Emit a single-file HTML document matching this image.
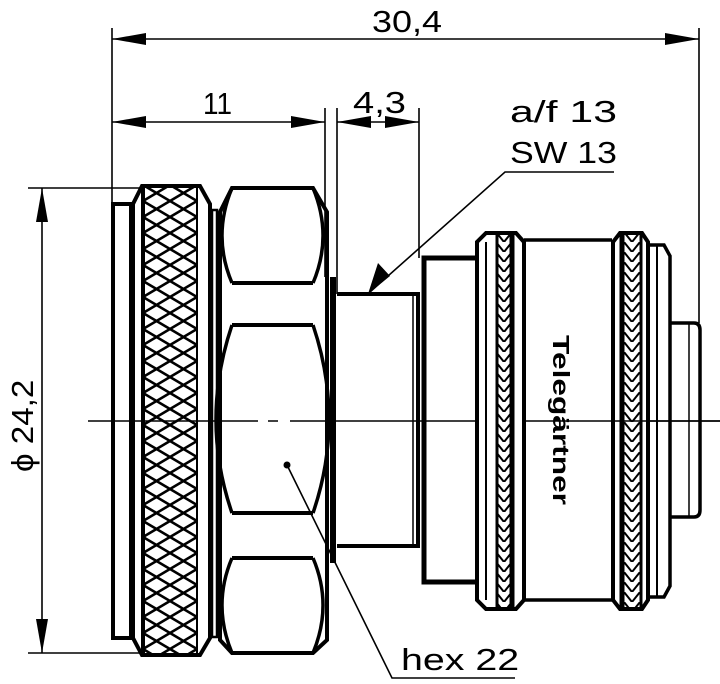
<!DOCTYPE html>
<html><head><meta charset="utf-8"><style>
html,body{margin:0;padding:0;background:#fff;}
svg{display:block;}
text{font-family:"Liberation Sans",sans-serif;fill:#000;}
</style></head><body>
<svg width="720" height="684" viewBox="0 0 720 684" xmlns="http://www.w3.org/2000/svg">
<defs>
<pattern id="kn" x="143" y="185" width="27" height="16" patternUnits="userSpaceOnUse">
<path d="M0 0 L27 16 M27 0 L0 16 M-13.5 8 L0 0 M27 16 L40 8" stroke="#000" stroke-width="2.6" fill="none"/>
</pattern>
<pattern id="kn2" x="0" y="232" width="16" height="10" patternUnits="userSpaceOnUse">
<path d="M0 0 L8 10 L16 0" stroke="#000" stroke-width="2" fill="none"/>
</pattern>
</defs>
<g fill="none" stroke="#000">
<line x1="88" y1="421" x2="720" y2="421" stroke-width="1.5"/>
<rect x="113" y="204" width="18" height="434" stroke-width="4"/>
<path d="M142 186 L200 186 L210 204 L210 638 L200 655 L142 655 L133 638 L133 204 Z" stroke-width="4" fill="#fff"/>
<rect x="143" y="188" width="54" height="465" fill="url(#kn)" stroke="none"/>
<line x1="143" y1="188" x2="143" y2="653" stroke-width="4"/>
<line x1="197" y1="188" x2="197" y2="653" stroke-width="2"/>
<line x1="133" y1="421" x2="210" y2="421" stroke-width="1.5"/>
<rect x="212" y="210" width="5" height="427" stroke-width="2.5"/>
<path d="M232 188 L313 188 L327 212 L327 640 L313 653 L232 653 L220 640 L220 212 Z" stroke-width="4" fill="#fff"/>
<path d="M232 188 Q212 236 232 283 M313 188 Q333 236 313 283" stroke-width="3.5"/>
<path d="M232 325 Q200 420 232 513 M313 325 Q345 420 313 513" stroke-width="3.5"/>
<path d="M232 558 Q212 605 232 653 M313 558 Q333 605 313 653" stroke-width="3.5"/>
<line x1="232" y1="283" x2="313" y2="283" stroke-width="4"/>
<line x1="232" y1="325" x2="313" y2="325" stroke-width="4"/>
<line x1="232" y1="513" x2="313" y2="513" stroke-width="4"/>
<line x1="232" y1="558" x2="313" y2="558" stroke-width="4"/>
<line x1="220" y1="421" x2="258" y2="421" stroke-width="1.5"/>
<line x1="268" y1="421" x2="278" y2="421" stroke-width="1.5"/>
<line x1="290" y1="421" x2="330" y2="421" stroke-width="1.5"/>
<rect x="330" y="277" width="6" height="286" fill="#000" stroke="none"/>
<path d="M337 294 L418 294 L418 546 L337 546" stroke-width="4"/>
<line x1="413" y1="294" x2="413" y2="546" stroke-width="1.5"/>
<path d="M476 258 L424 258 L424 582 L476 582" stroke-width="5"/>
<path d="M486 233 L516 233 L524 242 L524 600 L516 609 L486 609 L477 600 L477 242 Z" stroke-width="4" fill="#fff"/>
<rect x="497" y="235" width="15" height="372" fill="url(#kn2)" stroke="none"/>
<line x1="497" y1="235" x2="497" y2="607" stroke-width="3"/>
<line x1="512" y1="235" x2="512" y2="607" stroke-width="5"/>
<line x1="486" y1="242" x2="486" y2="600" stroke-width="2"/>
<path d="M524 240 L612 240 M524 600 L612 600" stroke-width="3.5"/>
<path d="M620 233 L642 233 L648 242 L648 600 L642 609 L620 609 L613 600 L613 242 Z" stroke-width="4" fill="#fff"/>
<rect x="622" y="235" width="18" height="372" fill="url(#kn2)" stroke="none"/>
<line x1="622" y1="235" x2="622" y2="607" stroke-width="5"/>
<line x1="641" y1="235" x2="641" y2="607" stroke-width="3"/>
<path d="M648 245 L664 245 L670 256 L670 586 L664 597 L648 597" stroke-width="3.5"/>
<line x1="657" y1="245" x2="657" y2="597" stroke-width="2"/>
<path d="M670 323 L694 323 Q700 323 700 330 L700 510 Q700 517 694 517 L670 517" stroke-width="3.5"/>
<line x1="689" y1="323" x2="689" y2="517" stroke-width="1.5"/>
<line x1="612" y1="421" x2="720" y2="421" stroke-width="1.5"/>
<g stroke-width="1.6">
<line x1="112" y1="28" x2="112" y2="204"/>
<line x1="699" y1="28" x2="699" y2="323"/>
<line x1="112" y1="39" x2="699" y2="39"/>
<line x1="112" y1="122" x2="325" y2="122"/>
<line x1="325" y1="108" x2="325" y2="277"/>
<line x1="337" y1="108" x2="337" y2="294"/>
<line x1="419" y1="108" x2="419" y2="258"/>
<line x1="337" y1="122" x2="419" y2="122"/>
<line x1="28" y1="188" x2="142" y2="188"/>
<line x1="28" y1="653" x2="142" y2="653"/>
<line x1="42" y1="188" x2="42" y2="653"/>
<path d="M614 172 L505 172 L370 292"/>
<path d="M287 465 L392 678 L515 678"/>
</g>
</g>
<g fill="#000">
<path d="M112 39 L146 33 L146 45 Z"/>
<path d="M699 39 L665 33 L665 45 Z"/>
<path d="M112 122 L146 116 L146 128 Z"/>
<path d="M325 122 L291 116 L291 128 Z"/>
<path d="M337 122 L371 116 L371 128 Z"/>
<path d="M419 122 L385 116 L385 128 Z"/>
<path d="M42 188 L36 222 L48 222 Z"/>
<path d="M42 653 L36 619 L48 619 Z"/>
<path d="M368 294 L378 263 L390 276 Z"/>
<circle cx="287" cy="465" r="3.5"/>
</g>
<text transform="translate(372,32) scale(1.16,1)" font-size="31">30,4</text>
<text transform="translate(203,114) scale(0.9,1)" font-size="31">11</text>
<text transform="translate(353,113) scale(1.23,1)" font-size="31">4,3</text>
<text transform="translate(510,122) scale(1.38,1)" font-size="31">a/f 13</text>
<text transform="translate(510,163) scale(1.15,1)" font-size="31">SW 13</text>
<text transform="translate(401,670) scale(1.27,1)" font-size="31">hex 22</text>
<text transform="translate(33,472) rotate(-90) scale(1.07,1)" font-size="31">ϕ 24,2</text>
<text transform="translate(553,335) rotate(90)" font-size="23" font-weight="bold" textLength="170" lengthAdjust="spacingAndGlyphs">Telegärtner</text>
</svg>
</body></html>
